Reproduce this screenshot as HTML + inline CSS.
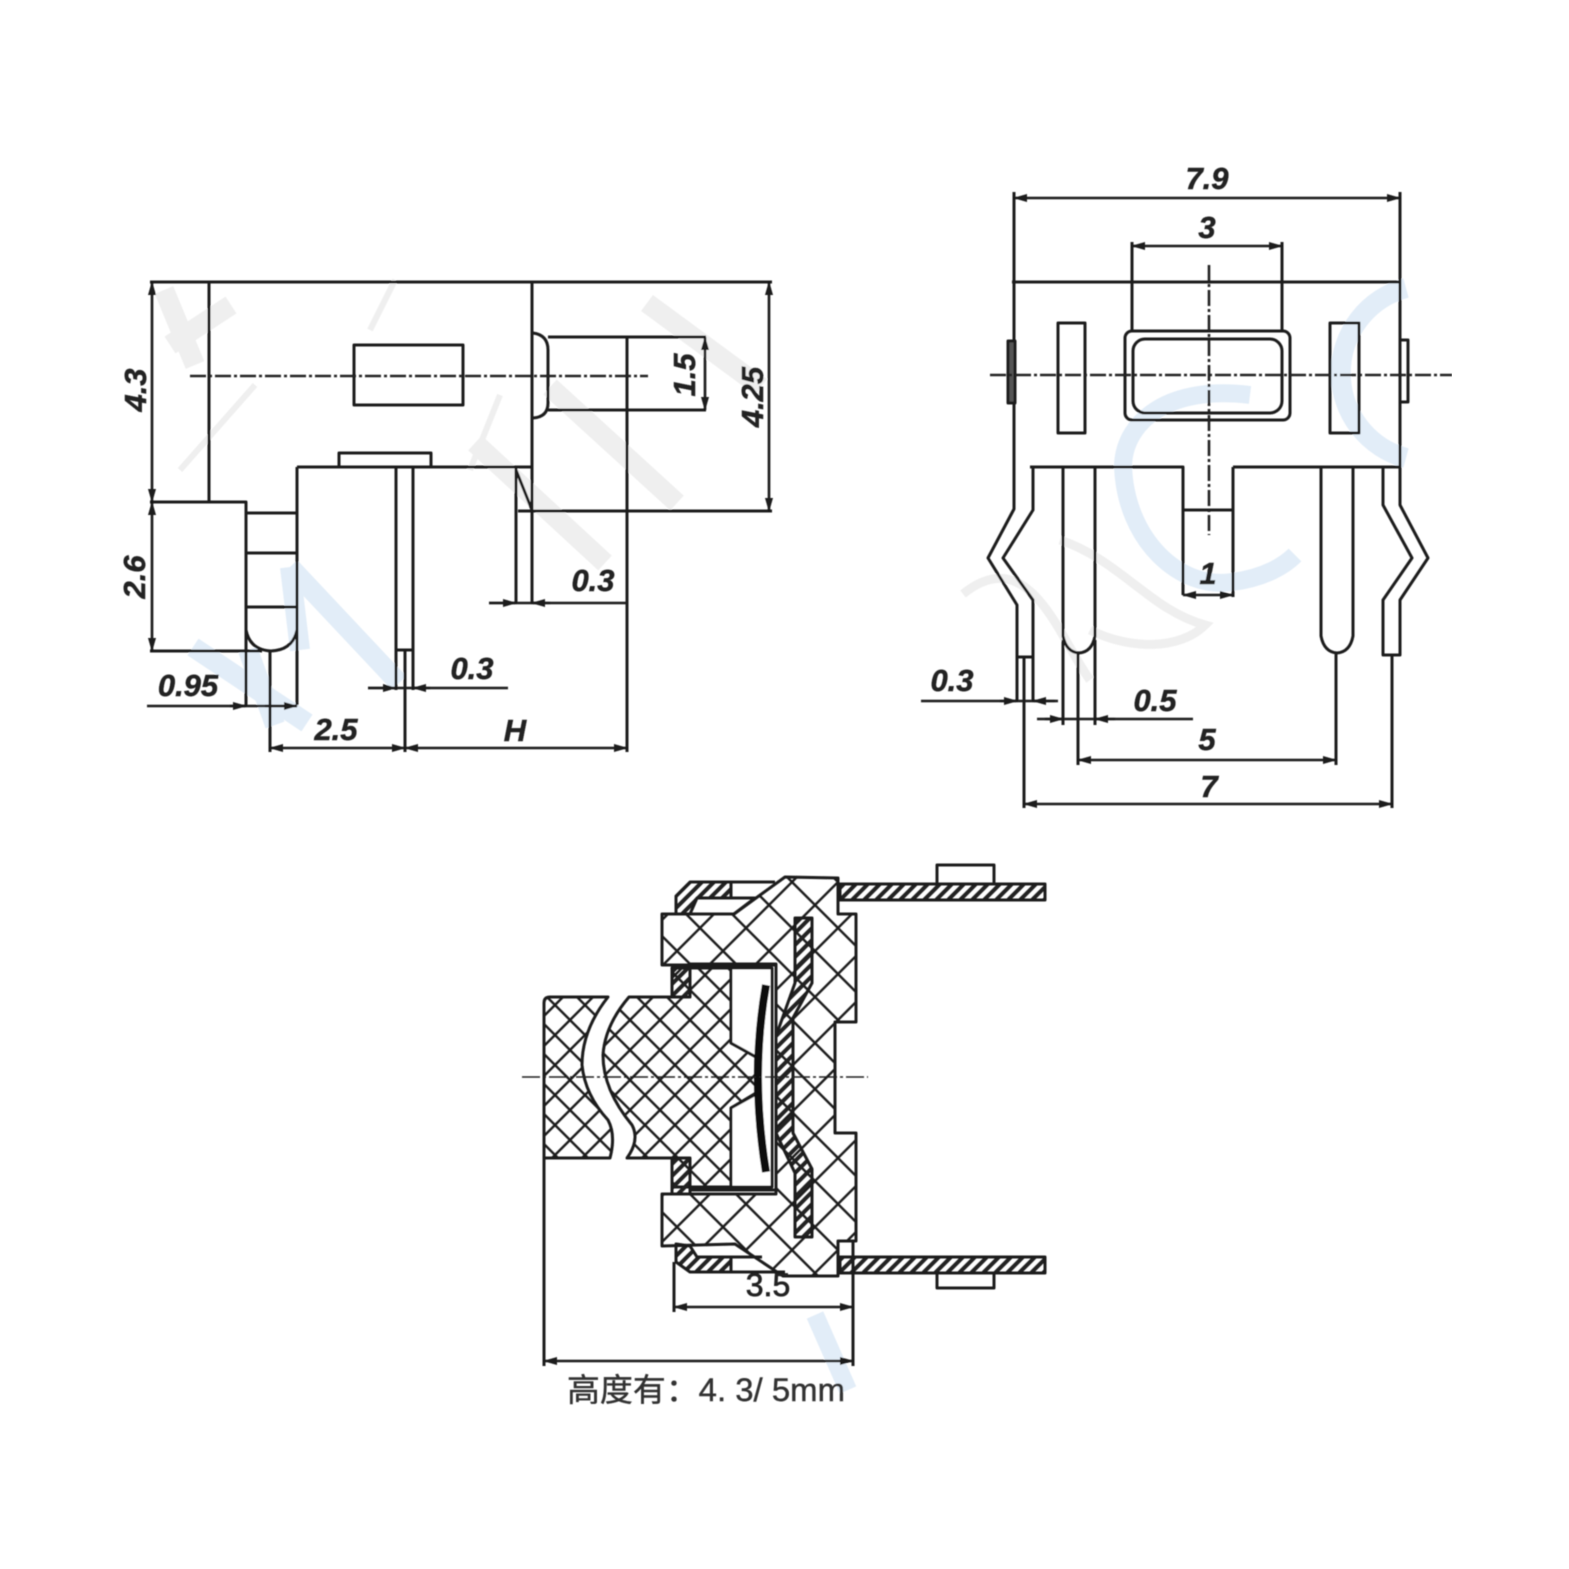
<!DOCTYPE html>
<html><head><meta charset="utf-8"><style>
html,body{margin:0;padding:0;background:#fff}
svg{display:block}
.l{fill:none;stroke:#1a1a1a;stroke-width:3;stroke-linejoin:round}
.d{fill:none;stroke:#1a1a1a;stroke-width:2.6}
.c{fill:none;stroke:#222;stroke-width:2.6;stroke-dasharray:16 3 3 3}
.t{font-family:"Liberation Sans",sans-serif;font-weight:bold;font-style:italic;font-size:31px;fill:#222;text-anchor:middle;stroke:#222;stroke-width:.5}
.g{fill:none;stroke:#efefef;stroke-linecap:butt}
.b{fill:none;stroke:#e2edf8}
</style></head><body>
<svg width="1569" height="1569" viewBox="0 0 1569 1569">
<defs>
<marker id="a" viewBox="0 0 14 8" refX="13" refY="4" markerWidth="14" markerHeight="9" markerUnits="userSpaceOnUse" orient="auto-start-reverse"><path d="M0 0L14 4L0 8Z" fill="#1a1a1a"/></marker>
<pattern id="h1" width="46" height="46" patternUnits="userSpaceOnUse" x="10" y="8"><path d="M0 0L46 46M46 0L0 46" stroke="#1c1c1c" stroke-width="2.4"/></pattern>
<pattern id="h2" width="30" height="30" patternUnits="userSpaceOnUse"><path d="M0 0L30 30M30 0L0 30" stroke="#1c1c1c" stroke-width="2.4"/></pattern>
<pattern id="h3" width="12" height="12" patternUnits="userSpaceOnUse"><path d="M-3 15L15 -3M-3 3L3 -3M9 15L15 9" stroke="#222" stroke-width="4"/></pattern>
<filter id="f" x="0" y="0" width="100%" height="100%"><feGaussianBlur stdDeviation="0.55"/></filter>
</defs>
<rect width="1569" height="1569" fill="#fff"/>
<g filter="url(#f)">
<!-- watermark -->
<g>
<path class="g" stroke-width="20" d="M164 290L195 365M231 305L170 345M475 443L605 563M550 387L677 503M647 303L761 387"/>
<path class="g" stroke-width="6" d="M180 470L255 385M370 330L395 280M500 395L470 470"/>
<path class="b" stroke-width="20" d="M290 567L399 683M193 647L307 723M290 567L300 650M248 650L275 725"/>
<path class="b" stroke-width="20" d="M1406 288A88 88 0 0 0 1406 458"/>
<path class="b" stroke-width="18" d="M1250 395C1170 385 1125 420 1123 465C1125 540 1180 590 1232 582C1265 578 1285 565 1295 555"/>
<path class="g" stroke-width="9" d="M963 594C1030 540 1060 640 1090 680M1060 540C1120 560 1150 610 1205 625C1180 650 1130 650 1090 630"/>
<path class="b" stroke-width="18" d="M815 1315L848 1390"/>
</g>
<!-- left view -->
<g class="l">
<path d="M150 282H772M209 282V502M532 282V604M354 345H463V405H354Z"/>
<path d="M533 333Q548 335 548 350V403Q548 417 533 418M548 337H706M548 410H706M627 337V752"/>
<path d="M518 511H772M297 467H532M339 467V453H431V467M297 467V705"/>
<path d="M396 467V690M413 467V690M396 650H413M405 650V752"/>
<path d="M516 467V604M516 470L532 510"/>
<path d="M150 502H246V630M246 630Q250 650 271 651Q293 650 297 630M150 651H262M246 630V706"/>
<path d="M246 513H297M246 553H297M246 607H297M270 651V752"/>
</g>
<g class="d">
<path d="M152 282V502" marker-start="url(#a)" marker-end="url(#a)"/>
<path d="M152 502V651" marker-start="url(#a)" marker-end="url(#a)"/>
<path d="M769 282V511" marker-start="url(#a)" marker-end="url(#a)"/>
<path d="M705 337V410" marker-start="url(#a)" marker-end="url(#a)"/>
<path d="M489 603H628"/><path d="M489 603H516" marker-end="url(#a)"/><path d="M550 603H532" marker-end="url(#a)"/>
<path d="M368 688H508"/><path d="M368 688H396" marker-end="url(#a)"/><path d="M430 688H413" marker-end="url(#a)"/>
<path d="M147 706H297"/><path d="M230 706H246" marker-end="url(#a)"/><path d="M265 706H297" marker-end="url(#a)"/>
<path d="M270 748H405" marker-start="url(#a)" marker-end="url(#a)"/>
<path d="M405 748H627" marker-start="url(#a)" marker-end="url(#a)"/>
</g>
<path class="c" d="M190 376H648"/>
<g class="t">
<text transform="translate(146,390) rotate(-90)">4.3</text>
<text transform="translate(145,577) rotate(-90)">2.6</text>
<text transform="translate(763,397) rotate(-90)">4.25</text>
<text transform="translate(695,375) rotate(-90)">1.5</text>
<text x="593" y="591">0.3</text>
<text x="472" y="679">0.3</text>
<text x="188" y="696">0.95</text>
<text x="336" y="740">2.5</text>
<text x="515" y="741">H</text>
</g>
<!-- right view -->
<g class="l">
<path d="M1014 192V467M1400 192V467M1012 282H1400M1132 242V330M1282 242V330"/>
<rect x="1125" y="331" width="165" height="89" rx="7"/>
<rect x="1133" y="339" width="149" height="74" rx="12"/>
<rect x="1058" y="323" width="27" height="110"/>
<rect x="1330" y="323" width="29" height="110"/>
<rect x="1400" y="340" width="8" height="62"/>
<rect x="1008" y="341" width="7" height="62" fill="#555"/>
<path d="M1030 467H1183V595M1233 467H1400M1233 467V597M1183 510H1233"/>
<path d="M1063 467V636Q1066 652 1079 653Q1092 652 1095 636V467M1063 640V725M1095 640V725M1078 653V765"/>
<path d="M1321 467V636Q1324 652 1337 653Q1350 652 1353 636V467M1336 653V765"/>
<path d="M1014 467V509L988 558L1017 605V657H1033V600L1003 558L1033 510V467"/>
<path d="M1383 467V505L1412 558L1383 600V655H1400V600L1428 558L1400 505V467"/>
<path d="M1017 657V701M1033 657V701M1024 657V808M1392 655V808"/>
</g>
<g class="d">
<path d="M1014 198H1400" marker-start="url(#a)" marker-end="url(#a)"/>
<path d="M1132 246H1282" marker-start="url(#a)" marker-end="url(#a)"/>
<path d="M1183 595H1233" marker-start="url(#a)" marker-end="url(#a)"/>
<path d="M921 701H1058"/><path d="M1000 701H1017" marker-end="url(#a)"/><path d="M1055 701H1033" marker-end="url(#a)"/>
<path d="M1037 719H1193"/><path d="M1045 719H1063" marker-end="url(#a)"/><path d="M1115 719H1095" marker-end="url(#a)"/>
<path d="M1078 760H1336" marker-start="url(#a)" marker-end="url(#a)"/>
<path d="M1024 804H1392" marker-start="url(#a)" marker-end="url(#a)"/>
</g>
<path class="c" d="M990 375H1452M1209 265V535"/>
<g class="t">
<text x="1207" y="189">7.9</text>
<text x="1207" y="238">3</text>
<text x="1208" y="584">1</text>
<text x="952" y="691">0.3</text>
<text x="1155" y="711">0.5</text>
<text x="1207" y="750">5</text>
<text x="1209" y="797">7</text>
</g>
<!-- section view -->
<path class="l" style="fill:url(#h2)" d="M544 1003Q544 997 550 997H608Q582 1030 582 1065Q585 1095 608 1120Q616 1135 610 1158H544Z"/>
<path class="l" style="fill:url(#h1)" d="M662 914H734L785 877L838 878V914H856V1022H835V1133H856V1241H838V1276H783L735 1244L662 1246V1194H776V965H662Z"/>
<path class="l" style="fill:url(#h2)" d="M629 997H672V968H731V1043L758 1058L756 1093L731 1108V1187H672V1158H627Q640 1140 632 1125Q603 1090 603 1055Q605 1025 629 997Z"/>
<path class="l" fill="#fff" style="fill:#fff" d="M731 968H772V1187H731V1108L758 1093L758 1058L731 1043Z"/>
<path class="l" style="fill:url(#h3)" d="M795 918H812V983L793 1018V1133L812 1169V1237H795V1173L776 1133V1036L795 983Z"/>
<path d="M766 985Q750 1075 766 1172" fill="none" stroke="#111" stroke-width="8"/>
<path class="l" d="M690 964H776V1194M690 1190H776"/>
<path class="l" style="fill:url(#h3)" d="M676 914V896L690 882H731V898H697L690 914Z"/>
<path class="l" d="M731 882H775M731 898H755L734 914"/>
<path class="l" style="fill:url(#h3)" d="M676 1244L690 1246L697 1257H731V1272H690L676 1262Z"/>
<path class="l" d="M731 1257H762M731 1272H785"/>
<path class="l" style="fill:url(#h3)" d="M672 968H690V997H672ZM672 1158H690V1194H672Z"/>
<path class="l" style="fill:url(#h3)" d="M840 884H1045V900H840ZM840 1257H1045V1273H840Z"/>
<path class="l" d="M937 884V865H994V884M937 1273V1288H994V1273"/>
<g class="l">
<path d="M544 1158V1366M853 1241V1366M674 1262V1312"/>
</g>
<g class="d">
<path d="M674 1307H853" marker-start="url(#a)" marker-end="url(#a)"/>
<path d="M544 1361H853" marker-start="url(#a)" marker-end="url(#a)"/>
</g>
<path d="M522 1077H868" fill="none" stroke="#222" stroke-width="1.6" stroke-dasharray="18 3 3 3"/>
<text x="768" y="1296" style="font-family:'Liberation Sans',sans-serif;font-size:32px;fill:#222;text-anchor:middle;stroke:#222;stroke-width:.7">3.5</text>
<text x="567" y="1401" textLength="278" lengthAdjust="spacingAndGlyphs" style="font-family:'Liberation Sans','Noto Sans CJK SC',sans-serif;font-size:32px;fill:#333;stroke:#333;stroke-width:.4">高度有：4. 3/ 5mm</text>
</g>
</svg>
</body></html>
